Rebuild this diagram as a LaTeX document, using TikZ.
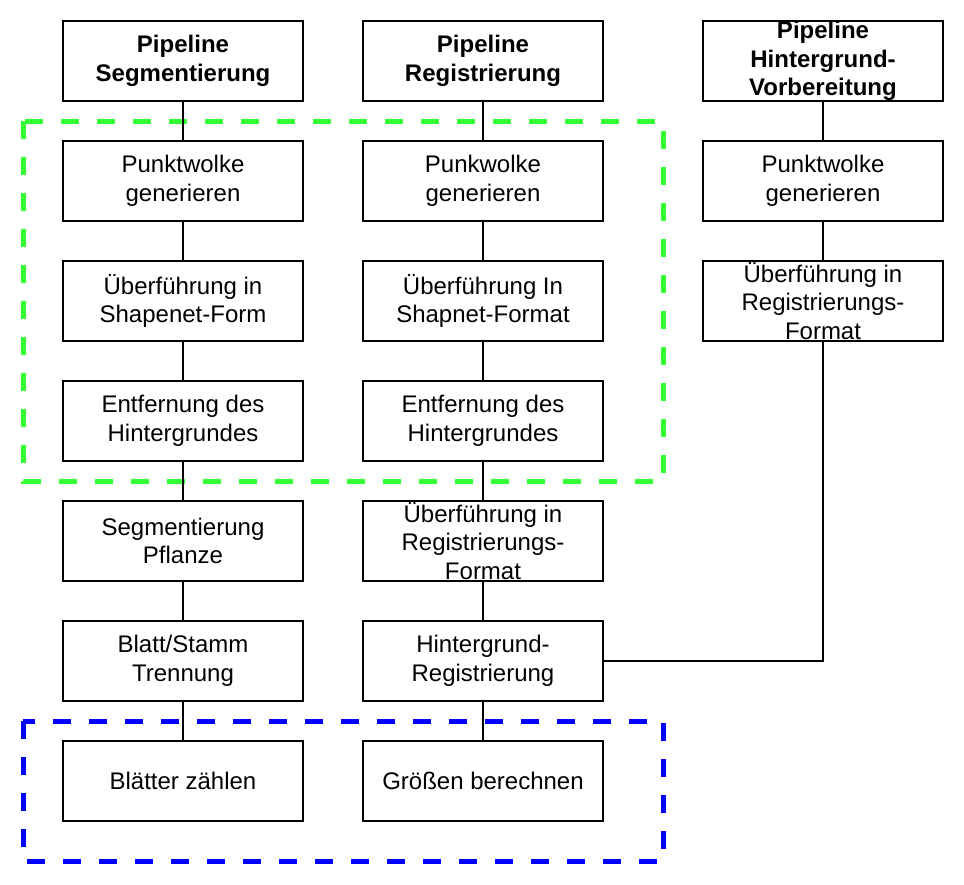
\documentclass[tikz,border=0pt]{standalone}
\usepackage{fontspec}
\setmainfont{Liberation Sans}
\definecolor{grn}{HTML}{33FF33}
\definecolor{blu}{HTML}{0000FF}
\begin{document}
\begin{tikzpicture}[x=1pt,y=-1pt,
  box/.style={draw=black,line width=2pt,minimum width=240pt,minimum height=80pt,inner sep=0pt,align=center,font=\fontsize{24}{28.5}\selectfont},
  hdr/.style={box,font=\fontsize{24}{28.5}\selectfont\bfseries},
  conn/.style={draw=black,line width=2pt},
  grp/.style={line width=5pt,dash pattern=on 18pt off 18pt}]
\useasboundingbox (0,0) rectangle (964,884);
\fill[white] (0,0) rectangle (964,884);
\draw[grp,draw=grn] (23,121) rectangle (663,481);
\draw[grp,draw=blu] (23,721) rectangle (663,861);
\node[hdr] (a1) at (183,61) {Pipeline\\Segmentierung};
\node[box] (a2) at (183,181) {Punktwolke\\generieren};
\node[box] (a3) at (183,301) {Überführung in\\Shapenet-Form};
\node[box] (a4) at (183,421) {Entfernung des\\Hintergrundes};
\node[box] (a5) at (183,541) {Segmentierung\\Pflanze};
\node[box] (a6) at (183,661) {Blatt/Stamm\\Trennung};
\node[box] (a7) at (183,781) {Blätter zählen};
\node[hdr] (b1) at (483,61) {Pipeline\\Registrierung};
\node[box] (b2) at (483,181) {Punkwolke\\generieren};
\node[box] (b3) at (483,301) {Überführung In\\Shapnet-Format};
\node[box] (b4) at (483,421) {Entfernung des\\Hintergrundes};
\node[box] (b5) at (483,541) {Überführung in\\Registrierungs-\\Format};
\node[box] (b6) at (483,661) {Hintergrund-\\Registrierung};
\node[box] (b7) at (483,781) {Größen berechnen};
\node[hdr] (c1) at (823,61) {Pipeline\\Hintergrund-\\Vorbereitung};
\node[box] (c2) at (823,181) {Punktwolke\\generieren};
\node[box] (c3) at (823,301) {Überführung in\\Registrierungs-\\Format};
\foreach \p/\q in {a1/a2,a2/a3,a3/a4,a4/a5,a5/a6,a6/a7,b1/b2,b2/b3,b3/b4,b4/b5,b5/b6,b6/b7,c1/c2,c2/c3}
  \draw[conn] (\p.south) -- (\q.north);
\draw[conn] (c3.south) |- (b6.east);
\end{tikzpicture}
\end{document}
